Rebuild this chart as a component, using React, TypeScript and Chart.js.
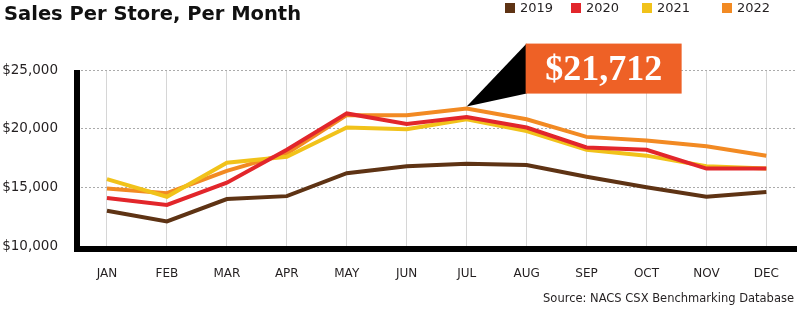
import React, { useEffect, useRef } from "react";
import { Chart, registerables } from "chart.js";

Chart.register(...registerables);

const months = ["JAN", "FEB", "MAR", "APR", "MAY", "JUN", "JUL", "AUG", "SEP", "OCT", "NOV", "DEC"];
const sales2019 = [13000, 12100, 14000, 14250, 16200, 16800, 17000, 16900, 15900, 15000, 14200, 14600];
const sales2020 = [14100, 13500, 15400, 18200, 21300, 20400, 21000, 20100, 18400, 18200, 16600, 16600];
const sales2021 = [15700, 14200, 17100, 17600, 20100, 19950, 20800, 19800, 18200, 17700, 16800, 16600];
const sales2022 = [14900, 14500, 16400, 17900, 21150, 21150, 21712, 20800, 19300, 19000, 18500, 17700];
const yTicks = [10000, 15000, 20000, 25000];
const seriesLabels = ["2019", "2020", "2021", "2022"];
const calloutText = "$21,712";
const calloutSeries = 3;
const calloutIndex = 6;
const titleText = "Sales Per Store, Per Month";
const sourceText = "Source: NACS CSX Benchmarking Database";

const colors = ["#5e3314", "#e2262b", "#f1c21a", "#f28a23"];
const FONT = "'DejaVu Sans', sans-serif";

const decorPlugin = {
  id: "decor",
  afterDraw(chart: any) {
    const ctx = chart.ctx;
    const area = chart.chartArea;
    ctx.save();
    // title
    ctx.fillStyle = "#111";
    ctx.font = `bold 19.5px ${FONT}`;
    ctx.textBaseline = "alphabetic";
    ctx.textAlign = "left";
    ctx.fillText(titleText, 4, 20);
    // legend
    const legendX = [505, 571, 642, 722];
    ctx.font = `13px ${FONT}`;
    ctx.textBaseline = "middle";
    chart.data.datasets.forEach((ds: any, i: number) => {
      ctx.fillStyle = ds.borderColor;
      ctx.fillRect(legendX[i], 3, 10, 10);
      ctx.fillStyle = "#231f20";
      ctx.fillText(ds.label, legendX[i] + 15, 9);
    });
    // axis lines
    ctx.fillStyle = "#000";
    ctx.fillRect(74, area.top, 6, area.bottom + 6 - area.top);
    ctx.fillRect(74, area.bottom, 723, 6);
    // callout
    const meta = chart.getDatasetMeta(calloutSeries);
    const pt = meta.data[calloutIndex];
    const px = pt.x;
    const py = pt.y;
    const bx = px + 59;
    const by = py - 65;
    const bw = 156;
    const bh = 50;
    ctx.fillStyle = "#000";
    ctx.beginPath();
    ctx.moveTo(px, py - 2);
    ctx.lineTo(bx + 1, by);
    ctx.lineTo(bx + 1, by + bh);
    ctx.closePath();
    ctx.fill();
    ctx.fillStyle = "#ee6126";
    ctx.fillRect(bx, by, bw, bh);
    ctx.fillStyle = "#fff";
    ctx.font = `bold 36px 'Liberation Serif', serif`;
    ctx.textAlign = "center";
    ctx.textBaseline = "middle";
    ctx.fillText(calloutText, bx + bw / 2, by + bh / 2 + 2);
    // source
    ctx.fillStyle = "#231f20";
    ctx.font = `11.5px ${FONT}`;
    ctx.textAlign = "right";
    ctx.textBaseline = "middle";
    ctx.fillText(sourceText, 794, 299);
    ctx.restore();
  },
};

export default function App() {
  const ref = useRef<HTMLCanvasElement>(null);
  useEffect(() => {
    if (!ref.current) return;
    const seriesData = [sales2019, sales2020, sales2021, sales2022];
    const chart = new Chart(ref.current, {
      type: "line",
      data: {
        labels: months,
        datasets: seriesLabels.map((label, i) => ({
          label,
          data: seriesData[i],
          borderColor: colors[i],
          backgroundColor: colors[i],
          borderWidth: 4,
          pointRadius: 0,
          tension: 0,
        })),
      },
      options: {
        animation: false,
        responsive: false,
        layout: { padding: { top: 70, right: 1, left: 0, bottom: 0 } },
        plugins: { legend: { display: false }, tooltip: { enabled: false } },
        scales: {
          x: {
            offset: true,
            grid: { display: true, offset: false, color: "#d6d6d6", lineWidth: 1, drawTicks: false },
            border: { display: false },
            ticks: { color: "#231f20", font: { family: FONT, size: 12 }, padding: 21, maxRotation: 0 },
            afterFit: (s: any) => { s.height = 64; },
          },
          y: {
            min: 10000,
            max: 25000,
            afterBuildTicks: (s: any) => { s.ticks = yTicks.map((v) => ({ value: v })); },
            grid: { color: "#ababab", lineWidth: 1, drawTicks: false },
            border: { display: false, dash: [2, 2] },
            ticks: {
              color: "#231f20",
              font: { family: FONT, size: 13.5 },
              padding: 19,
              callback: (v: any) => "$" + Number(v).toLocaleString("en-US"),
            },
            afterFit: (s: any) => { s.width = 77; },
          },
        },
      },
      plugins: [decorPlugin],
    } as any);
    return () => chart.destroy();
  }, []);
  return (
    <div style={{ position: "absolute", left: 0, top: 0, width: 800, height: 310, background: "#fff" }}>
      <canvas ref={ref} width={800} height={310} />
    </div>
  );
}
